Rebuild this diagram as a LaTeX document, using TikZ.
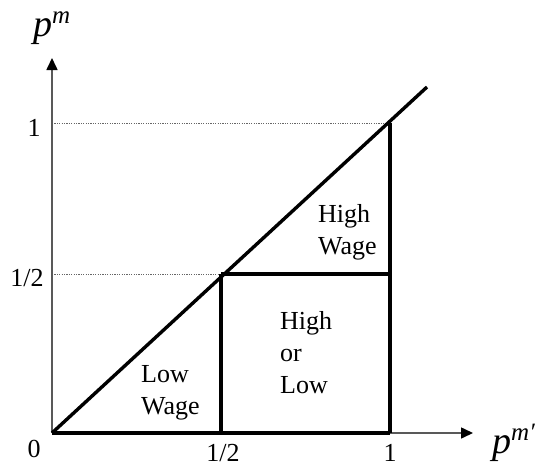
\documentclass[tikz,border=0pt]{standalone}
\usepackage{fontspec}
\setmainfont{Liberation Serif}
\usetikzlibrary{arrows.meta}
\begin{document}
\begin{tikzpicture}[x=1pt,y=-1pt,
  axisline/.style={draw=black!65, line width=1.6pt, -{Triangle[length=12pt,width=11pt,color=black]}},
  bound/.style={draw=black, line width=3.4pt},
  guide/.style={draw=black!60, line width=0.9pt, dash pattern=on 1.2pt off 1.2pt},
  ticklbl/.style={font=\fontsize{26}{30}\selectfont, inner sep=0pt, anchor=base},
  regionlbl/.style={font=\fontsize{26}{32}\selectfont, inner sep=0pt, align=left, anchor=base west},
  axislbl/.style={inner sep=0pt, anchor=base west},
]
\useasboundingbox (0,0) rectangle (539,469);
% points
\coordinate (O) at (52,433);
\coordinate (Xtip) at (473,433);
\coordinate (Ytip) at (52,58);
\coordinate (Xh) at (221,433);
\coordinate (X1) at (390,433);
\coordinate (Yh) at (52,274);
\coordinate (Y1) at (52,123);
\coordinate (C) at (221,274);
\coordinate (D) at (390,274);
\coordinate (E) at (390,123);
\coordinate (F) at (427,87);
% guides
\draw[guide] (Y1) -- (E);
\draw[guide] (Yh) -- (C);
% axes
\draw[axisline] (O) -- (Xtip);
\draw[axisline] (O) -- (Ytip);
% boundaries
\draw[bound] (O) -- (F);
\draw[bound] (O) -- (X1);
\draw[bound] (X1) -- (E);
\draw[bound] (Xh) -- (C);
\draw[bound] (C) -- (D);
% tick labels
\node[ticklbl] (l1y) at (34,136) {1};
\node[ticklbl] (lhy) at (27,286) {1/2};
\node[ticklbl] (l0) at (34,457) {0};
\node[ticklbl] (lhx) at (223,461) {1/2};
\node[ticklbl] (l1x) at (390,461) {1};
% axis labels
\node[axislbl] (pm) at (33,36) {{\fontsize{38}{40}\selectfont\itshape p}\raisebox{13pt}{\fontsize{25}{28}\selectfont\itshape m}};
\node[axislbl] (pmp) at (492,453) {{\fontsize{38}{40}\selectfont\itshape p}\raisebox{13pt}{\fontsize{25}{28}\selectfont\itshape m′}};
% region labels
\node[regionlbl] (hw) at (318,254) {High\\Wage};
\node[regionlbl] (hol) at (280,393) {High\\or\\Low};
\node[regionlbl] (lw) at (141,414) {Low\\Wage};
\end{tikzpicture}
\end{document}
